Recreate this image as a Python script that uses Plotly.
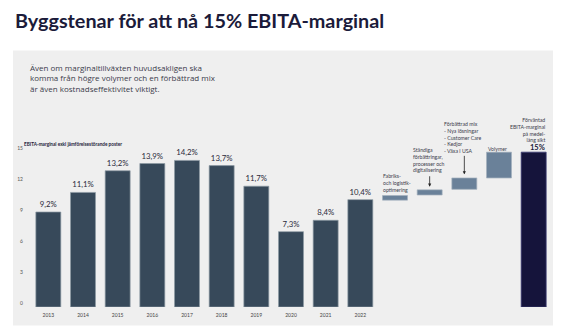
import plotly.graph_objects as go

# ---------------- data ----------------
years = ["2013", "2014", "2015", "2016", "2017", "2018", "2019", "2020", "2021", "2022"]
margins = [9.2, 11.1, 13.2, 13.9, 14.2, 13.7, 11.7, 7.3, 8.4, 10.4]

steps = ["Fabriks", "Ständiga", "Förbättrad", "Volymer"]
step_start = [10.35, 10.85, 11.4, 12.5]
step_end = [10.8, 11.35, 12.5, 15.0]

target_cat = ["Förväntad"]
target_val = [15.0]

y_ticks = [0, 3, 6, 9, 12, 15]

# ---------------- layout helpers ----------------
W, H = 580, 330
ML, MR, MT, MB = 31, 29, 147, 19
PW, PH = W - ML - MR, H - MT - MB


def px(x):
    return (x - ML) / PW


def py(y):
    return (H - MB - y) / PH


FONT = "Lato"
DARK = "#1b1b3a"
TXT = "#3b3b4b"

categories = years + steps + target_cat

fig = go.Figure()

fig.add_trace(go.Bar(
    x=years, y=margins,
    marker=dict(color="#37495a", line=dict(color="#8d99a4", width=0.7)),
    texttemplate="%{y:.1f}%", textposition="outside",
    textfont=dict(family=FONT, size=7.8, color="#2b2b3b"),
    cliponaxis=False, showlegend=False, hoverinfo="skip",
))

fig.add_trace(go.Bar(
    x=steps, y=[e - s for s, e in zip(step_start, step_end)], base=step_start,
    marker=dict(color="#6a8199", line=dict(color="#a3b0bd", width=0.7)),
    showlegend=False, hoverinfo="skip",
))

fig.add_trace(go.Bar(
    x=target_cat, y=target_val,
    marker=dict(color="#15143b", line=dict(color="#3a3a72", width=0.8)),
    showlegend=False, hoverinfo="skip",
))

shapes = [
    dict(type="rect", xref="paper", yref="paper", layer="below",
         x0=px(13), x1=px(553), y0=py(330), y1=py(48),
         fillcolor="#efefef", line=dict(width=0)),
]

ann = []
# title
ann.append(dict(text="<b>Byggstenar för att nå 15% EBITA-marginal</b>", xref="paper", yref="paper",
                x=px(13), y=py(17), xanchor="left", yanchor="middle", showarrow=False,
                font=dict(family=FONT, size=19.8, color=DARK)))
# intro paragraph
ann.append(dict(text="Även om marginaltillväxten huvudsakligen ska<br>komma från högre volymer och en förbättrad mix<br>är även kostnadseffektivitet viktigt.",
                xref="paper", yref="paper", x=px(28), y=py(76), xanchor="left", yanchor="middle",
                align="left", showarrow=False, font=dict(family="Open Sans", size=8, color=TXT)))
# axis subtitle
ann.append(dict(text="<b>EBITA-marginal exkl jämförelsestörande poster</b>", xref="paper", yref="paper",
                x=px(22), y=py(144), xanchor="left", yanchor="middle", showarrow=False,
                font=dict(family=FONT, size=4.7, color=DARK)))

small = dict(family=FONT, size=5.2, color=TXT)
ann.append(dict(text="Fabriks-<br>och logistik-<br>optimering", xref="paper", yref="paper",
                x=px(381), y=py(184), xanchor="left", yanchor="middle", align="left",
                showarrow=False, font=small))
ann.append(dict(text="Ständiga<br>förbättringar,<br>processer och<br>digitalisering", xref="paper", yref="paper",
                x=px(411), y=py(160), xanchor="left", yanchor="middle", align="left",
                showarrow=False, font=small))
ann.append(dict(text="Förbättrad mix<br>- Nya lösningar<br>- Customer Care<br>- Kedjor<br>- Växa i USA", xref="paper", yref="paper",
                x=px(442), y=py(137), xanchor="left", yanchor="middle", align="left",
                showarrow=False, font=small))
ann.append(dict(text="Volymer", xref="paper", yref="paper",
                x=px(486), y=py(149), xanchor="left", yanchor="middle", align="left",
                showarrow=False, font=small))
ann.append(dict(text="Förväntad<br>EBITA-marginal<br>på medel-<br>lång sikt", xref="paper", yref="paper",
                x=px(547), y=py(130), xanchor="right", yanchor="middle", align="right",
                showarrow=False, font=small))
ann.append(dict(text="<b>15%</b>", xref="paper", yref="paper",
                x=px(547), y=py(148), xanchor="right", yanchor="middle", align="right",
                showarrow=False, font=dict(family=FONT, size=7.5, color=DARK)))
# arrows
ann.append(dict(x=steps[1], y=11.65, xref="x", yref="y", text="", showarrow=True,
                ax=0, ay=-12, arrowhead=2, arrowsize=0.8, arrowwidth=0.8, arrowcolor="#222"))
ann.append(dict(x=steps[2], y=12.85, xref="x", yref="y", text="", showarrow=True,
                ax=0, ay=-20, arrowhead=2, arrowsize=0.8, arrowwidth=0.8, arrowcolor="#222"))

fig.update_layout(
    width=W, height=H,
    margin=dict(l=ML, r=MR, t=MT, b=MB, pad=0),
    paper_bgcolor="white", plot_bgcolor="rgba(0,0,0,0)",
    separators=", ",
    barmode="overlay", bargap=0.28,
    shapes=shapes, annotations=ann,
    font=dict(family=FONT),
)
fig.update_xaxes(
    type="category", categoryorder="array", categoryarray=categories,
    range=[-0.5, len(categories) - 0.5],
    tickvals=years, ticktext=years, showgrid=False, zeroline=False, showline=False,
    ticks="", tickfont=dict(family=FONT, size=5, color="#444"), ticklabelstandoff=4,
)
fig.update_yaxes(
    range=[0, 15.5], tickvals=y_ticks, showgrid=False, zeroline=False, showline=False,
    ticks="", tickfont=dict(family=FONT, size=5, color="#555"), ticklabelstandoff=7,
    ticklabelshift=-4,
)

fig.write_html("out.html")
